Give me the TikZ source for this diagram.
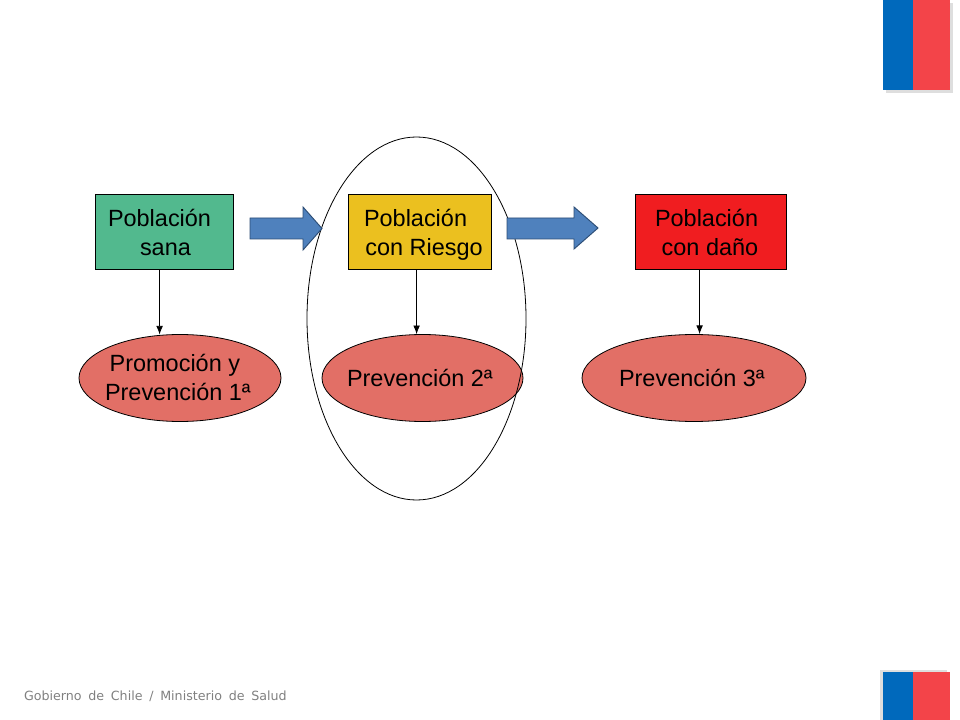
\documentclass[tikz,border=0pt]{standalone}
\usepackage{fontspec}
\setmainfont{Liberation Sans}
\newfontfamily\footfont{DejaVu Sans}
\usetikzlibrary{arrows.meta,shapes.geometric}
\definecolor{flagblue}{HTML}{0069BC}
\definecolor{flagred}{HTML}{F34449}
\definecolor{flagshadow}{HTML}{DEDEDE}
\definecolor{boxgreen}{HTML}{52B98E}
\definecolor{boxyellow}{HTML}{EBC01F}
\definecolor{boxred}{HTML}{F01D20}
\definecolor{ovalred}{HTML}{E26F66}
\definecolor{arrowblue}{HTML}{4F81BD}
\definecolor{arrowedge}{HTML}{2C4D75}
\definecolor{foot}{HTML}{808080}
\tikzset{
  box/.style={draw=black,line width=0.6pt,minimum height=56.5pt,inner sep=0pt,outer sep=0pt},
  oval/.style={ellipse,draw=black,line width=0.6pt,fill=ovalred,minimum height=65.25pt,inner sep=0pt,outer sep=0pt},
  ring/.style={ellipse,draw=black,line width=0.6pt,minimum width=164.25pt,minimum height=272.25pt,inner sep=0pt,outer sep=0pt},
  label/.style={inner sep=0pt,outer sep=0pt,font=\fontsize{17.6pt}{21.75pt}\selectfont,align=left,anchor=north west,text=black},
  blockarrow/.style={draw=arrowedge,line width=0.7pt,fill=arrowblue,line join=miter},
  conn/.style={draw=black,line width=0.6pt,-{Latex[length=6.5pt,width=5pt]}}
}
\begin{document}
\begin{tikzpicture}[x=0.75pt,y=-0.75pt]
\useasboundingbox (0,0) rectangle (960,720);
% flags
\fill[flagshadow] (886,3) rectangle (953,93);
\fill[flagblue] (883,0) rectangle (913,90);
\fill[flagred] (913,0) rectangle (950,90);
\fill[flagshadow] (880,670) rectangle (947,720);
\fill[flagblue] (883,672) rectangle (913,720);
\fill[flagred] (913,672) rectangle (950,720);
% boxes
\node[box,fill=boxgreen,minimum width=104pt] (b1) at (164.5,232) {};
\node[box,fill=boxyellow,minimum width=107.5pt] (b2) at (419.7,232) {};
\node[box,fill=boxred,minimum width=113.5pt] (b3) at (710.7,232) {};
% ovals
\node[oval,minimum width=151.5pt] (o1) at (180,378) {};
\node[oval,minimum width=150.75pt] (o2) at (422.5,378) {};
\node[oval,minimum width=168pt] (o3) at (694,378) {};
\node[ring] (r) at (416.5,318.5) {};
% block arrows
\draw[blockarrow] (250,218) -- (303,218) -- (303,207) -- (322,228.5) -- (303,250) -- (303,239) -- (250,239) -- cycle;
\draw[blockarrow] (507,218) -- (574,218) -- (574,207) -- (598,228) -- (574,249) -- (574,239) -- (507,239) -- cycle;
% connectors
\coordinate (c1) at (159.6,334.6);
\coordinate (c2) at (416.6,334.2);
\coordinate (c3) at (699.6,334.1);
\draw[conn] (b1.south -| c1) -- (c1);
\draw[conn] (b2.south -| c2) -- (c2);
\draw[conn] (b3.south -| c3) -- (c3);
% labels
\node[label] (t1) at (108,209) {Población\\\hspace*{24pt}sana};
\node[label] (t2) at (364,209) {Población\\\hspace*{1pt}con Riesgo};
\node[label] (t3) at (655,209) {Población\\\hspace*{5pt}con daño};
\node[label] (t4) at (105,354) {\hspace*{3.5pt}Promoción y\\Prevención 1ª};
\node[label] (t5) at (347,369) {Prevención 2ª};
\node[label] (t6) at (619,369) {Prevención 3ª};
\node[inner sep=0pt,outer sep=0pt,anchor=base west,text=foot,font=\footfont\fontsize{9.5pt}{11pt}\selectfont] (f) at (24,700) {Gobierno\hspace{2pt} de\hspace{2pt} Chile\hspace{2pt} /\hspace{2pt} Ministerio\hspace{2pt} de\hspace{2pt} Salud};
\end{tikzpicture}
\end{document}
